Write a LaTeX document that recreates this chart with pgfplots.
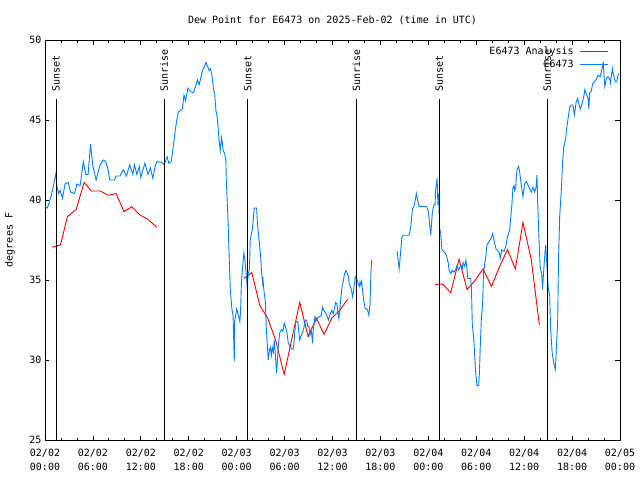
\documentclass[border=0pt]{standalone}
\usepackage{fontspec}
\setmainfont{DejaVu Sans Mono}
\setmonofont{DejaVu Sans Mono}
\usepackage{pgfplots}
\pgfplotsset{compat=1.18}

\definecolor{obsblue}{RGB}{0,128,255}

\begin{document}
\begin{tikzpicture}
\useasboundingbox (-45pt,-40pt) rectangle (595pt,440pt);
\begin{axis}[
  scale only axis,
  width=575pt, height=400pt,
  xmin=0, xmax=72, ymin=25, ymax=50,
  font=\fontsize{10}{12}\selectfont,
  /pgf/number format/assume math mode=true,
  axis line style={line width=0.9pt},
  tick align=inside,
  every tick/.style={black, line width=0.8pt},
  major tick length=4.5pt, minor tick length=2.5pt,
  xtick={0,6,...,72},
  minor x tick num=2,
  ytick={25,30,...,50},
  xticklabels={{02/02\\[2pt]00:00},{02/02\\[2pt]06:00},{02/02\\[2pt]12:00},{02/02\\[2pt]18:00},
               {02/03\\[2pt]00:00},{02/03\\[2pt]06:00},{02/03\\[2pt]12:00},{02/03\\[2pt]18:00},
               {02/04\\[2pt]00:00},{02/04\\[2pt]06:00},{02/04\\[2pt]12:00},{02/04\\[2pt]18:00},
               {02/05\\[2pt]00:00}},
  xticklabel style={font=\fontsize{10}{12}\selectfont, align=center, yshift=-5.5pt},
  title={Dew Point for E6473 on 2025-Feb-02 (time in UTC)},
  title style={yshift=6pt},
  ylabel={degrees F},
  ylabel style={at={(axis description cs:-0.061,0.5)}, anchor=center},
  unbounded coords=jump,
  legend cell align=right,
  legend plot pos=right,
  legend style={draw=none, fill=none, at={(rel axis cs:0.985,0.993)}, anchor=north east,
    nodes={inner sep=1.5pt, text height=8pt, text depth=2pt}, column sep=4pt},
  legend image code/.code={\draw[#1] (0pt,0pt) -- (28pt,0pt);},
]

% analysis (hourly)
\addplot[red, line width=0.9pt] coordinates {
(0.9,37.05) (1.95,37.2) (2.8,38.96) (3.9,39.4) (4.9,41.1) (5.8,40.56) (6.9,40.56)
(7.9,40.3) (8.9,40.4) (9.9,39.27) (10.85,39.58) (11.9,39.06) (12.9,38.79) (14.0,38.29)
};
\addlegendentry{E6473 Analysis}
\addplot[red, line width=0.9pt, forget plot] coordinates {
(24.9,35.1) (25.9,35.46) (26.9,33.4) (27.9,32.6) (28.9,31.2) (29.95,29.1) (30.9,31.3)
(31.9,33.6) (32.95,31.46) (34.0,32.6) (34.95,31.6) (35.9,32.6) (36.9,33.1) (37.9,33.8)
};
\addplot[red, line width=0.9pt, forget plot] coordinates {
(48.8,34.7) (49.8,34.75) (50.8,34.2) (51.85,36.3) (52.85,34.4) (53.9,35.0) (54.85,35.7)
(55.9,34.6) (56.9,35.8) (57.9,36.9) (58.9,35.7) (59.85,38.6) (60.9,36.25) (61.9,32.2)
};

% observations
\addplot[obsblue, line width=0.9pt] coordinates {
(0.0,39.6) (0.3,39.5) (0.8,40.3) (1.1,41.0) (1.38,41.7) (1.5,40.8) (1.7,40.4) (1.9,40.6)
(2.2,40.1) (2.5,41.0) (2.9,41.1) (3.2,40.5) (3.7,40.4) (4.0,41.0) (4.4,40.9) (4.8,42.4)
(5.1,41.6) (5.4,41.6) (5.7,43.5) (6.0,42.1) (6.4,41.25) (6.9,42.2) (7.3,42.5) (7.6,42.4)
(7.9,41.9) (8.1,41.25) (8.7,41.25) (8.9,41.5) (9.4,41.5) (9.8,41.9) (10.2,41.5) (10.6,42.2)
(11.0,41.6) (11.2,42.2) (11.5,41.6) (11.8,42.1) (12.0,41.4) (12.5,42.3) (12.9,41.6) (13.2,42.0)
(13.5,41.35) (13.8,42.1) (14.0,42.4) (14.6,42.35) (14.9,42.2) (15.3,42.7) (15.5,42.3) (15.8,42.4)
(16.0,43.1) (16.3,44.3) (16.5,45.0) (16.7,45.5) (17.0,45.6) (17.2,45.7) (17.4,46.56) (17.6,46.2)
(17.9,47.0) (18.2,46.8) (18.6,46.7) (18.9,47.2) (19.1,47.5) (19.3,47.2) (19.5,47.6) (19.7,48.1)
(19.95,48.3) (20.15,48.6) (20.4,48.3) (20.55,48.1) (20.7,48.2) (20.9,47.8) (21.1,46.9) (21.25,46.6)
(21.4,45.6) (21.55,45.2) (21.7,44.4) (21.8,43.75) (21.95,43.1) (22.1,43.9) (22.2,43.6) (22.3,43.1)
(22.5,42.9) (22.65,42.5) (22.7,41.25) (22.9,38.96) (23.05,36.6) (23.2,34.4) (23.4,33.2) (23.55,32.8)
(23.7,29.9) (23.75,32.4) (24.0,33.2) (24.2,32.8) (24.4,32.4) (24.5,33.2) (24.6,34.9) (24.75,35.8)
(24.9,36.7) (25.05,36.2) (25.2,35.3) (25.3,34.7) (25.45,35.3) (25.6,35.7) (25.7,37.5) (26.0,38.3)
(26.2,39.5) (26.5,39.5) (26.6,38.5) (26.8,37.5) (27.0,36.5) (27.1,35.6) (27.25,34.8) (27.3,35.0)
(27.4,34.4) (27.6,33.6) (27.7,32.1) (27.95,30.0) (28.1,30.6) (28.2,30.8) (28.35,30.3) (28.45,30.8)
(28.6,30.5) (28.7,31.25) (28.85,30.3) (29.0,29.2) (29.1,30.0) (29.2,30.8) (29.4,31.7) (29.6,31.9)
(29.8,31.8) (29.95,32.3) (30.15,32.0) (30.3,31.7) (30.45,31.1) (30.7,30.8) (30.9,30.7) (31.1,30.7)
(31.2,31.25) (31.4,32.4) (31.65,32.4) (31.75,31.9) (31.9,31.25) (32.05,31.5) (32.25,31.7) (32.4,32.0)
(32.6,32.5) (32.75,32.5) (32.9,32.1) (33.05,32.1) (33.2,31.56) (33.35,31.9) (33.5,31.04) (33.6,31.9)
(33.8,32.7) (34.0,32.5) (34.2,32.7) (34.4,32.7) (34.6,32.8) (34.75,33.3) (34.9,33.1) (35.2,32.9)
(35.35,32.7) (35.5,32.5) (35.65,32.8) (35.9,33.1) (36.1,32.9) (36.25,33.25) (36.4,33.6) (36.55,33.5)
(36.7,32.9) (36.8,32.6) (36.9,33.1) (37.05,33.9) (37.2,34.6) (37.35,34.9) (37.5,35.4) (37.7,35.6)
(37.85,35.4) (38.0,35.25) (38.1,34.7) (38.25,34.6) (38.4,34.3) (38.5,33.96) (38.6,34.2) (38.75,34.8)
(38.85,35.2) (39.0,35.1) (39.2,34.8) (39.35,34.6) (39.45,34.9) (39.55,34.7) (39.65,34.9) (39.75,34.4)
(39.9,33.75) (40.1,33.2) (40.3,33.2) (40.45,33.0) (40.55,32.8) (40.7,33.5) (40.8,35.3) (40.9,36.25)
(42.0,nan)
(44.1,36.8) (44.2,36.3) (44.35,35.7) (44.45,36.3) (44.6,37.1) (44.7,37.7) (44.9,37.8) (45.6,37.8)
(45.8,38.3) (45.9,38.85) (46.0,39.4) (46.25,39.7) (46.4,40.1) (46.5,40.4) (46.65,40.0) (46.85,39.6)
(47.8,39.6) (48.0,39.3) (48.2,38.3) (48.3,37.8) (48.5,39.2) (48.7,39.7) (48.85,39.7) (48.9,40.6)
(49.1,41.35) (49.2,39.7) (49.3,40.4) (49.4,38.3) (49.55,37.9) (49.7,36.9) (49.9,36.8) (50.1,36.7)
(50.3,36.5) (50.5,36.04) (50.6,35.6) (50.8,35.4) (51.0,35.6) (51.2,35.5) (51.4,35.6) (51.6,35.9)
(51.75,35.6) (51.95,35.8) (52.1,35.9) (52.25,35.7) (52.35,36.1) (52.55,35.85) (52.7,36.25) (52.8,35.85)
(52.95,35.1) (53.3,35.1) (53.4,34.5) (53.5,32.3) (53.7,31.25) (53.9,29.4) (54.0,28.85) (54.1,28.4)
(54.3,28.4) (54.4,29.2) (54.5,30.8) (54.65,32.7) (54.8,33.5) (54.9,35.4) (55.2,36.5) (55.35,37.2)
(55.6,37.4) (55.85,37.6) (56.05,37.9) (56.25,37.4) (56.5,36.9) (56.7,36.85) (56.9,36.7) (57.0,36.35)
(57.2,36.9) (57.5,36.8) (57.7,37.1) (57.9,37.7) (58.0,37.8) (58.2,38.2) (58.3,38.85) (58.45,39.6)
(58.6,40.8) (58.75,40.9) (58.8,40.6) (58.95,40.8) (59.0,41.35) (59.1,41.9) (59.3,42.1) (59.45,41.7)
(59.65,40.9) (59.85,40.2) (60.05,41.0) (60.3,41.15) (60.5,40.9) (60.7,40.7) (60.9,40.5) (61.1,40.8)
(61.3,40.5) (61.5,40.8) (61.6,41.56) (61.7,39.8) (61.8,38.3) (62.0,35.8) (62.2,35.4) (62.3,34.4)
(62.45,35.6) (62.6,36.7) (62.7,37.2) (63.0,34.6) (63.2,34.0) (63.3,32.1) (63.5,30.5) (63.7,29.8)
(63.9,29.4) (64.0,30.4) (64.2,32.5) (64.3,36.25) (64.45,38.96) (64.7,41.04) (64.8,42.3) (64.95,43.3)
(65.2,43.85) (65.3,44.4) (65.5,45.1) (65.7,45.8) (65.9,45.94) (66.1,45.94) (66.3,45.3) (66.5,46.1)
(66.7,46.35) (66.9,45.9) (67.05,45.7) (67.3,46.1) (67.5,46.56) (67.6,46.9) (67.8,46.6) (68.0,46.35)
(68.1,45.7) (68.2,46.7) (68.4,46.8) (68.6,47.3) (68.8,47.4) (69.0,47.5) (69.25,47.8) (69.5,47.7)
(69.6,47.9) (69.8,48.3) (69.9,48.65) (70.0,47.8) (70.1,47.1) (70.3,47.6) (70.5,47.7) (70.7,47.6)
(70.8,47.3) (71.05,48.2) (71.2,47.8) (71.4,47.4) (71.6,47.4) (71.75,47.8) (71.9,47.9)
};
\addlegendentry{E6473}

% sunset / sunrise markers
\addplot[black, line width=0.9pt, forget plot] coordinates {(1.38,25) (1.38,46.3)};
\addplot[black, line width=0.9pt, forget plot] coordinates {(14.93,25) (14.93,46.3)};
\addplot[black, line width=0.9pt, forget plot] coordinates {(25.4,25) (25.4,46.3)};
\addplot[black, line width=0.9pt, forget plot] coordinates {(39.0,25) (39.0,46.3)};
\addplot[black, line width=0.9pt, forget plot] coordinates {(49.35,25) (49.35,46.3)};
\addplot[black, line width=0.9pt, forget plot] coordinates {(62.87,25) (62.87,46.3)};
\node[rotate=90, anchor=west, inner sep=0pt] at (axis cs:1.38,46.75) {Sunset};
\node[rotate=90, anchor=west, inner sep=0pt] at (axis cs:14.93,46.75) {Sunrise};
\node[rotate=90, anchor=west, inner sep=0pt] at (axis cs:25.4,46.75) {Sunset};
\node[rotate=90, anchor=west, inner sep=0pt] at (axis cs:39.0,46.75) {Sunrise};
\node[rotate=90, anchor=west, inner sep=0pt] at (axis cs:49.35,46.75) {Sunset};
\node[rotate=90, anchor=west, inner sep=0pt] at (axis cs:62.87,46.75) {Sunrise};
\end{axis}
\end{tikzpicture}
\end{document}
